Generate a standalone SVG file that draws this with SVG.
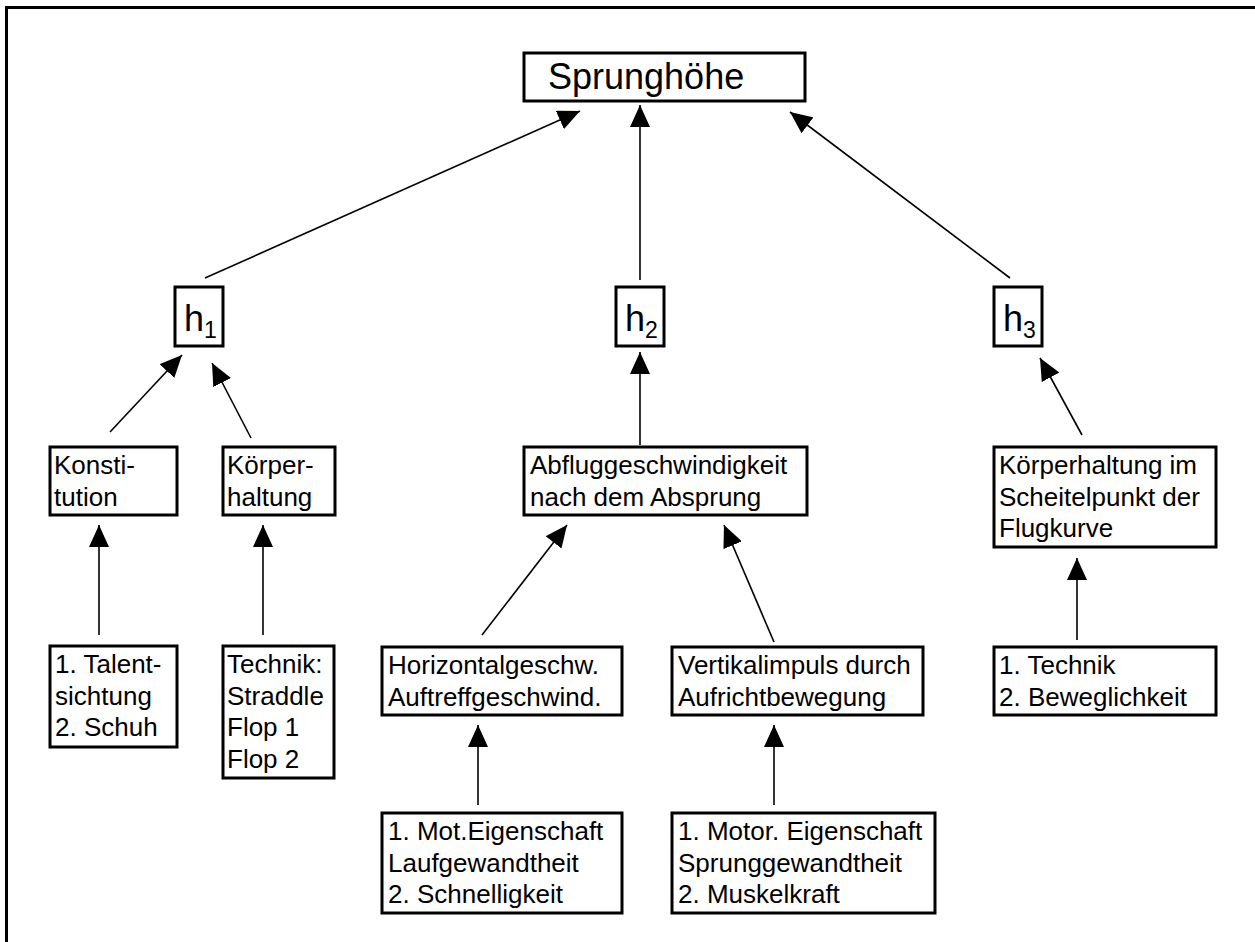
<svg xmlns="http://www.w3.org/2000/svg" width="1255" height="942" viewBox="0 0 1255 942">
<style>
.box{fill:#fff;stroke:#000;stroke-width:3}
.t{font-family:"Liberation Sans",Arial,sans-serif;font-size:26px;fill:#000}
.big{font-family:"Liberation Sans",Arial,sans-serif;font-size:36px;fill:#000}
.sub{font-family:"Liberation Sans",Arial,sans-serif;font-size:23px;fill:#000}
.c{stroke:#000;stroke-width:1.6;fill:none;marker-end:url(#ah)}
</style>
<defs>
<marker id="ah" markerUnits="userSpaceOnUse" markerWidth="22" markerHeight="20" refX="22" refY="10" orient="auto" viewBox="0 0 22 20">
<path d="M0,0 L22,10 L0,20 z" fill="#000"/>
</marker>
</defs>
<rect width="1255" height="942" fill="#fff"/>
<g id="frame">
<line x1="5" y1="7.5" x2="1255" y2="7.5" stroke="#000" stroke-width="3"/>
<line x1="6.5" y1="6" x2="6.5" y2="942" stroke="#000" stroke-width="3"/>
</g>
<g id="connectors">
<line class="c" x1="205" y1="278" x2="580" y2="111"/>
<line class="c" x1="640" y1="280" x2="640" y2="105"/>
<line class="c" x1="1010" y1="278" x2="790" y2="112"/>
<line class="c" x1="110" y1="432" x2="182" y2="355"/>
<line class="c" x1="251" y1="438" x2="212" y2="363"/>
<line class="c" x1="640" y1="445" x2="640" y2="352"/>
<line class="c" x1="1082" y1="435" x2="1040" y2="358"/>
<line class="c" x1="99" y1="635" x2="99" y2="525"/>
<line class="c" x1="263" y1="635" x2="263" y2="525"/>
<line class="c" x1="482" y1="635" x2="567" y2="525"/>
<line class="c" x1="774" y1="642" x2="724" y2="525"/>
<line class="c" x1="1077" y1="640" x2="1077" y2="558"/>
<line class="c" x1="478" y1="805" x2="478" y2="725"/>
<line class="c" x1="774" y1="805" x2="774" y2="725"/>
</g>
<g id="sprunghoehe">
<rect class="box" x="524" y="53" width="281" height="48"/>
<text class="big" x="548" y="89">Sprunghöhe</text>
</g>
<g id="h1">
<rect class="box" x="175" y="287" width="48" height="59"/>
<text class="big" x="184" y="331">h<tspan class="sub" dy="7">1</tspan></text>
</g>
<g id="h2">
<rect class="box" x="616" y="287" width="48" height="59"/>
<text class="big" x="625" y="331">h<tspan class="sub" dy="7">2</tspan></text>
</g>
<g id="h3">
<rect class="box" x="994" y="287" width="48" height="59"/>
<text class="big" x="1003" y="331">h<tspan class="sub" dy="7">3</tspan></text>
</g>
<g id="konstitution">
<rect class="box" x="50" y="447" width="127" height="68"/>
<text class="t"><tspan x="54" y="474">Konsti-</tspan><tspan x="54" y="505.5">tution</tspan></text>
</g>
<g id="koerperhaltung">
<rect class="box" x="223" y="447" width="112" height="68"/>
<text class="t"><tspan x="227" y="474">Körper-</tspan><tspan x="227" y="505.5">haltung</tspan></text>
</g>
<g id="abflug">
<rect class="box" x="524" y="447" width="283" height="68"/>
<text class="t"><tspan x="530" y="474">Abfluggeschwindigkeit</tspan><tspan x="530" y="505.5">nach dem Absprung</tspan></text>
</g>
<g id="scheitelpunkt">
<rect class="box" x="994" y="447" width="222" height="100"/>
<text class="t"><tspan x="999" y="474">Körperhaltung im</tspan><tspan x="999" y="505.5">Scheitelpunkt der</tspan><tspan x="999" y="537">Flugkurve</tspan></text>
</g>
<g id="talent">
<rect class="box" x="50" y="646" width="127" height="101"/>
<text class="t"><tspan x="55" y="673">1. Talent-</tspan><tspan x="55" y="704.5">sichtung</tspan><tspan x="55" y="736">2. Schuh</tspan></text>
</g>
<g id="technik1">
<rect class="box" x="223" y="646" width="111" height="132"/>
<text class="t"><tspan x="227" y="673">Technik:</tspan><tspan x="227" y="704.5">Straddle</tspan><tspan x="227" y="736">Flop 1</tspan><tspan x="227" y="767.5">Flop 2</tspan></text>
</g>
<g id="horizontal">
<rect class="box" x="382" y="647" width="240" height="68"/>
<text class="t"><tspan x="388" y="674">Horizontalgeschw.</tspan><tspan x="388" y="705.5">Auftreffgeschwind.</tspan></text>
</g>
<g id="vertikal">
<rect class="box" x="672" y="647" width="251" height="68"/>
<text class="t"><tspan x="678" y="674">Vertikalimpuls durch</tspan><tspan x="678" y="705.5">Aufrichtbewegung</tspan></text>
</g>
<g id="technik3">
<rect class="box" x="994" y="647" width="222" height="68"/>
<text class="t"><tspan x="999" y="674">1. Technik</tspan><tspan x="999" y="705.5">2. Beweglichkeit</tspan></text>
</g>
<g id="laufgewandtheit">
<rect class="box" x="382" y="813" width="240" height="100"/>
<text class="t"><tspan x="388" y="840">1. Mot.Eigenschaft</tspan><tspan x="388" y="871.5">Laufgewandtheit</tspan><tspan x="388" y="903">2. Schnelligkeit</tspan></text>
</g>
<g id="sprunggewandtheit">
<rect class="box" x="672" y="813" width="263" height="100"/>
<text class="t"><tspan x="678" y="840">1. Motor. Eigenschaft</tspan><tspan x="678" y="871.5">Sprunggewandtheit</tspan><tspan x="678" y="903">2. Muskelkraft</tspan></text>
</g>
</svg>
